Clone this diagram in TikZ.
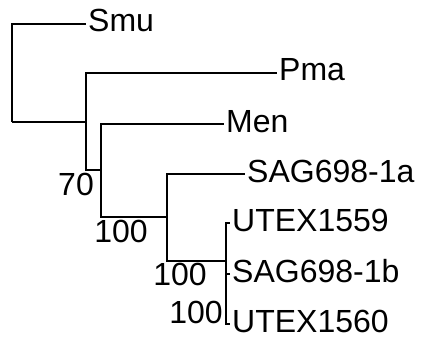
\documentclass[tikz,border=0pt]{standalone}
\usepackage{fontspec}
\setmainfont{Liberation Sans}
\usetikzlibrary{calc}
\begin{document}
\begin{tikzpicture}[x=1pt,y=-1pt,
  branch/.style={draw=black,line width=1.2pt},
  leaf/.style={anchor=base west,inner sep=0pt,xshift=2pt,yshift=-8pt,font=\fontsize{32}{38}\selectfont},
  support/.style={anchor=base east,inner sep=0pt,font=\fontsize{32}{38}\selectfont}]
\useasboundingbox (0,0) rectangle (422,339);
% internal nodes (junction points)
\coordinate (R) at (12,122);
\coordinate (A) at (86,122);
\coordinate (B) at (101,170);
\coordinate (C) at (167,217);
\coordinate (D) at (226,261);
% leaves
\node[leaf] (Smu) at (86,24) {Smu};
\node[leaf] (Pma) at (277,73) {Pma};
\node[leaf] (Men) at (224,124) {Men};
\node[leaf] (S1a) at (245,174) {SAG698-1a};
\node[leaf] (U59) at (230,223) {UTEX1559};
\node[leaf] (S1b) at (230,274) {SAG698-1b};
\node[leaf] (U60) at (230,324) {UTEX1560};
% support values
\node[support] (bA) at (94,195) {70};
\node[support] (bB) at (148,242) {100};
\node[support] (bC) at (207,285) {100};
\node[support] (bD) at (223,323) {100};
% branches
\draw[branch] (R) |- ($(Smu.base west)+(-2pt,8pt)$);
\draw[branch] (R) |- (A);
\draw[branch] (A) |- ($(Pma.base west)+(-2pt,8pt)$);
\draw[branch] (A) |- (B);
\draw[branch] (B) |- ($(Men.base west)+(-2pt,8pt)$);
\draw[branch] (B) |- (C);
\draw[branch] (C) |- ($(S1a.base west)+(-2pt,8pt)$);
\draw[branch] (C) |- (D);
\draw[branch] (D) |- ($(U59.base west)+(-2pt,8pt)$);
\draw[branch] (D) |- ($(S1b.base west)+(-2pt,8pt)$);
\draw[branch] (D) |- ($(U60.base west)+(-2pt,8pt)$);
\end{tikzpicture}
\end{document}
